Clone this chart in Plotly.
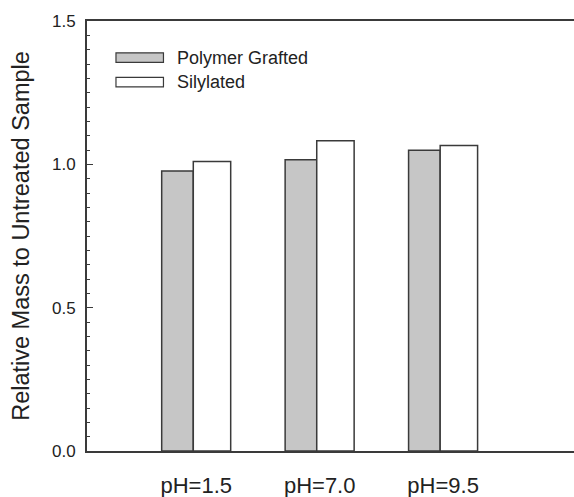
import plotly.graph_objects as go

categories = ["pH=1.5", "pH=7.0", "pH=9.5"]
polymer_grafted = [0.977, 1.016, 1.049]
silylated = [1.010, 1.082, 1.066]
series_names = ["Polymer Grafted", "Silylated"]
y_tick_vals = [0.0, 0.5, 1.0, 1.5]
y_tick_text = ["0.0", "0.5", "1.0", "1.5"]

FONT = "Liberation Sans, Arial, sans-serif"
LINE = "#3a3a3a"
GREY = "#c6c6c6"

fig = go.Figure()
fig.add_trace(go.Bar(
    x=categories, y=polymer_grafted, name=series_names[0],
    width=0.256, offset=-0.28,
    marker=dict(color=GREY, line=dict(color=LINE, width=1.5)),
))
fig.add_trace(go.Bar(
    x=categories, y=silylated, name=series_names[1],
    width=0.303, offset=-0.024,
    marker=dict(color="white", line=dict(color=LINE, width=1.5)),
))

# manual legend (wide rectangular swatches as in the original)
legend_items = [(series_names[0], GREY, 0.915), (series_names[1], "white", 0.858)]
for name, col, yy in legend_items:
    fig.add_shape(type="rect", xref="paper", yref="paper",
                  x0=0.0595, x1=0.157, y0=yy - 0.011, y1=yy + 0.011,
                  fillcolor=col, line=dict(color=LINE, width=1.2))
    fig.add_annotation(xref="paper", yref="paper", x=0.18, y=yy,
                       text=name, showarrow=False, xanchor="left", yanchor="middle",
                       font=dict(family=FONT, size=18, color="#222"))

fig.update_layout(
    width=574, height=497,
    margin=dict(l=87, r=0, t=21, b=46),
    plot_bgcolor="white", paper_bgcolor="white",
    showlegend=False,
    barmode="overlay",
    font=dict(family=FONT, size=17, color="#222"),
    xaxis=dict(
        type="category", range=[-0.885, 3.06],
        showline=True, linecolor=LINE, linewidth=2, mirror=True,
        ticks="", showgrid=False, zeroline=False,
        tickfont=dict(size=22), ticklabelstandoff=14,
    ),
    yaxis=dict(
        range=[0, 1.5], tickvals=y_tick_vals, ticktext=y_tick_text,
        showline=True, linecolor=LINE, linewidth=2,
        ticks="inside", ticklen=6, tickwidth=1, tickcolor=LINE,
        minor=dict(dtick=0.05, ticks="inside", ticklen=3, tickcolor=LINE, tickwidth=1, showgrid=False),
        showgrid=False, zeroline=False,
        title=dict(text="Relative Mass to Untreated Sample", font=dict(size=23.5), standoff=16),
        tickfont=dict(size=17), ticklabelstandoff=6,
    ),
)

fig.write_html("out.html")
